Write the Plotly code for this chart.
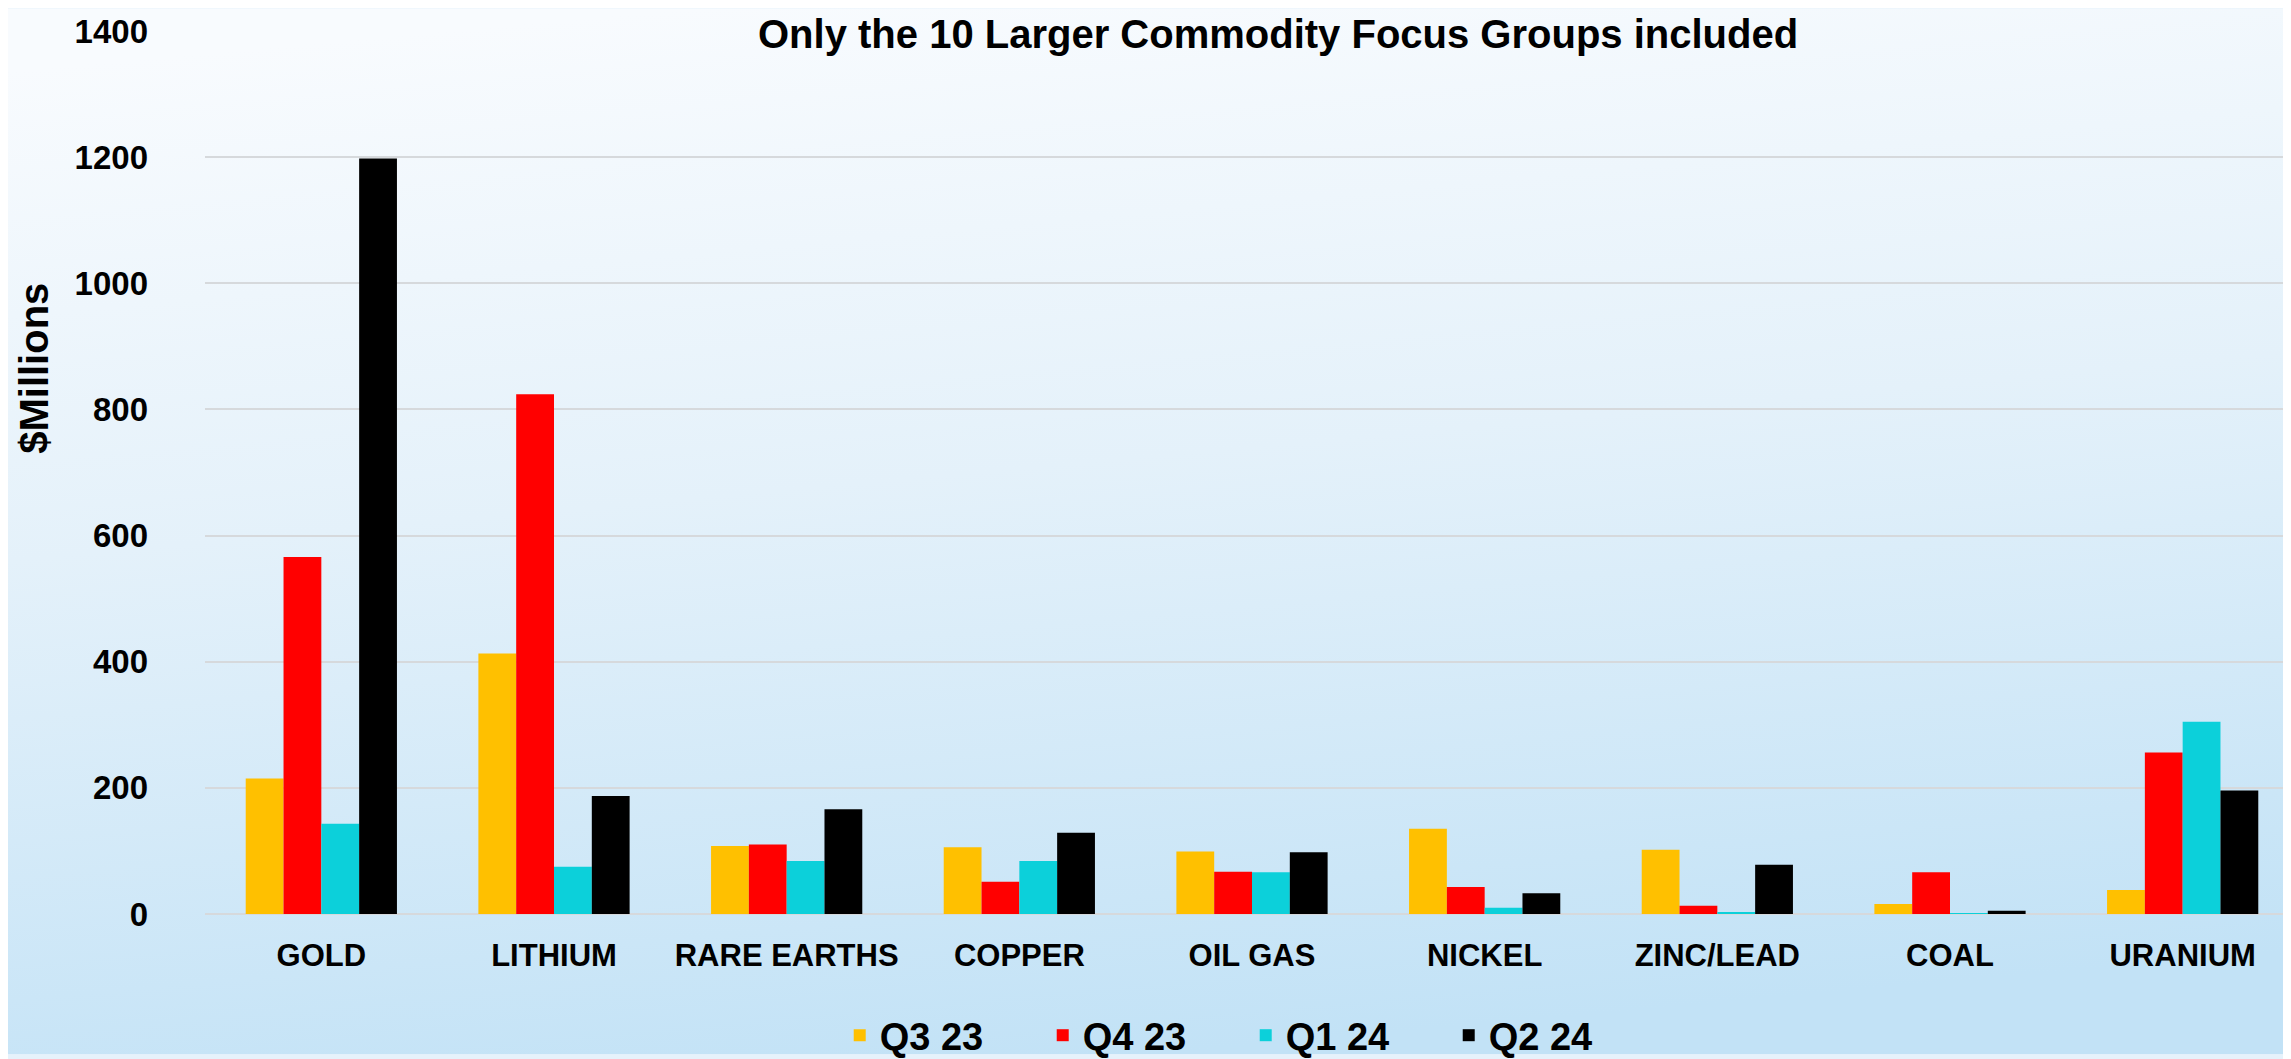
import base64
import plotly.graph_objects as go

categories = ["GOLD", "LITHIUM", "RARE EARTHS", "COPPER", "OIL GAS", "NICKEL", "ZINC/LEAD", "COAL", "URANIUM"]
series_names = ["Q3 23", "Q4 23", "Q1 24", "Q2 24"]
q3_23 = [215, 413, 108, 106, 99, 135, 102, 16, 38]
q4_23 = [566, 824, 110, 51, 67, 43, 13, 66, 256]
q1_24 = [143, 75, 84, 84, 66, 10, 2, 1, 305]
q2_24 = [1198, 187, 166, 129, 98, 33, 78, 5, 196]
colors = ["#FFC000", "#FF0000", "#0CD0DA", "#000000"]
y_ticks = [0, 200, 400, 600, 800, 1000, 1200, 1400]

W, H = 2291, 1059
ML, MR, MT, MB = 197, 0, 23, 142
pw, ph = W - ML - MR, H - MT - MB

svg = ('<svg xmlns="http://www.w3.org/2000/svg" width="100" height="100" preserveAspectRatio="none">'
       '<defs><linearGradient id="g" x1="0.3" y1="0" x2="0.5" y2="1">'
       '<stop offset="0" stop-color="#f8fbfe"/><stop offset="0.45" stop-color="#e4f1fa"/>'
       '<stop offset="1" stop-color="#c2e2f6"/></linearGradient></defs>'
       '<rect width="100" height="100" fill="url(#g)"/></svg>')
src = "data:image/svg+xml;base64," + base64.b64encode(svg.encode()).decode()

fig = go.Figure()
for name, vals, c in zip(series_names, [q3_23, q4_23, q1_24, q2_24], colors):
    fig.add_trace(go.Bar(x=categories, y=vals, name=name, marker=dict(color=c, line=dict(width=0))))

fig.update_layout(
    width=W, height=H,
    margin=dict(l=ML, r=MR, t=MT, b=MB, pad=0),
    paper_bgcolor="#e6f2fb",
    plot_bgcolor="rgba(0,0,0,0)",
    barmode="group", bargap=0.35, bargroupgap=0,
    font=dict(family="Liberation Sans, Arial, sans-serif", color="#000000"),
    images=[dict(source=src, xref="paper", yref="paper", x=-ML / pw, y=1 + MT / ph,
                 sizex=W / pw, sizey=H / ph, sizing="stretch", layer="below",
                 xanchor="left", yanchor="top")],
    xaxis=dict(showgrid=False, showline=False, zeroline=False,
               tickfont=dict(size=31, family="Liberation Sans, Arial", weight="bold"),
               ticklabelstandoff=20),
    yaxis=dict(range=[0, 1400], tickvals=y_ticks, showgrid=True, gridcolor="#d6d9dc", gridwidth=2,
               zeroline=True, zerolinecolor="#d6d9dc", zerolinewidth=2, showline=False,
               tickfont=dict(size=33, family="Liberation Sans, Arial", weight="bold"),
               ticklabelstandoff=56),
    legend=dict(orientation="h", x=0.497, xanchor="center", y=-0.138, yanchor="middle",
                font=dict(size=38, family="Liberation Sans, Arial", weight="bold"),
                bgcolor="rgba(0,0,0,0)", itemsizing="constant", entrywidth=158, itemwidth=30),
    annotations=[
        dict(text="<b>Only the 10 Larger Commodity Focus Groups included</b>", xref="paper", yref="paper",
             x=(1270 - ML) / pw, y=1 + (MT - 26) / ph, xanchor="center", yanchor="middle", showarrow=False,
             font=dict(size=40, family="Liberation Sans, Arial")),
        dict(text="<b>$Millions</b>", xref="paper", yref="paper", textangle=-90,
             x=(26 - ML) / pw, y=(MT + ph - 365) / ph, xanchor="center", yanchor="middle",
             showarrow=False, font=dict(size=40, family="Liberation Sans, Arial")),
    ],
)
fig.write_html("out.html")
